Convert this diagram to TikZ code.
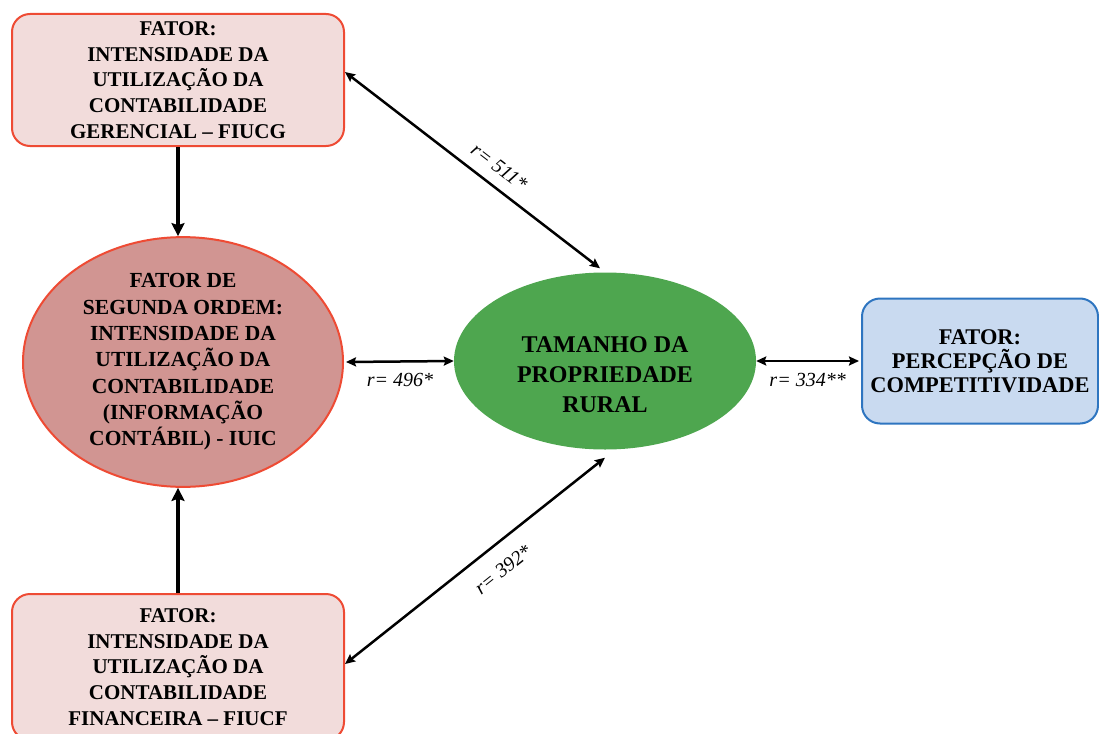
\documentclass[tikz,border=0pt]{standalone}
\usepackage{fontspec}
\setmainfont{Liberation Serif}
\usepackage{tikz}
\usetikzlibrary{arrows.meta,shapes.geometric}
\definecolor{vermelho}{HTML}{EE4B34}
\definecolor{rosa}{HTML}{F2DCDB}
\definecolor{rosaesc}{HTML}{D19592}
\definecolor{verde}{HTML}{4EA64F}
\definecolor{azulcl}{HTML}{C9DAF0}
\definecolor{azul}{HTML}{2E75C0}

\begin{document}
\begin{tikzpicture}[x=1pt, y=-1pt,
  caixa/.style={draw=vermelho, line width=2pt, fill=rosa, rounded corners=18pt,
    minimum width=332pt, minimum height=132pt, inner sep=0pt, align=center,
    font=\fontsize{21}{25.8}\selectfont\bfseries},
  elipse/.style={ellipse, inner sep=0pt, align=center},
  grossa/.style={-{Stealth[length=13pt,width=13pt,inset=2pt]}, line width=4pt},
  dupla/.style={{Stealth[length=10pt,width=9pt,inset=1.5pt]}-{Stealth[length=10pt,width=9pt,inset=1.5pt]}, line width=2.5pt},
  coef/.style={font=\fontsize{20}{24}\selectfont\itshape, inner sep=2pt}]

\useasboundingbox (0,0) rectangle (1099,733);
\clip (0,0) rectangle (1099,733);

% Fatores
\node[caixa] (fiucg) at (178,80) {FATOR:\\INTENSIDADE DA\\UTILIZAÇÃO DA\\CONTABILIDADE\\GERENCIAL – FIUCG};
\node[caixa, minimum height=146pt] (fiucf) at (178,667) {FATOR:\\INTENSIDADE DA\\UTILIZAÇÃO DA\\CONTABILIDADE\\FINANCEIRA – FIUCF};
\node[elipse, draw=vermelho, line width=2pt, fill=rosaesc, minimum width=320pt, minimum height=241pt,
  font=\fontsize{21.5}{26.3}\selectfont\bfseries] (iuic) at (183,362)
  {FATOR DE\\SEGUNDA ORDEM:\\INTENSIDADE DA\\UTILIZAÇÃO DA\\CONTABILIDADE\\(INFORMAÇÃO\\CONTÁBIL) - IUIC};
\node[elipse, fill=verde, minimum width=302pt, minimum height=177pt] (tam) at (605,361) {};
\node[align=center, font=\fontsize{24}{30}\selectfont\bfseries] (tamtxt) at (605,375)
  {TAMANHO DA\\PROPRIEDADE\\RURAL};
\node[caixa, draw=azul, fill=azulcl, minimum width=236pt, minimum height=125pt,
  font=\fontsize{22.4}{23.8}\selectfont\bfseries] (fpc) at (980,361)
  {FATOR:\\PERCEPÇÃO DE\\COMPETITIVIDADE};

% Setas
\draw[grossa] (fiucg.south) -- (fiucg.south |- iuic.north);
\draw[grossa] (fiucf.north) -- (fiucf.north |- iuic.south);
\draw[dupla] ([yshift=8pt]fiucg.east) -- ([shift={(-5pt,4pt)}]tam.north)
  node[coef, pos=0.56, sloped, above=9pt] {r= 511*};
\draw[dupla] ([yshift=3pt]fiucf.east) -- ([yshift=-8pt]tam.south)
  node[coef, pos=0.55, sloped, below=14pt] {r= 392*};
\draw[dupla] ([xshift=2pt]iuic.east) -- (tam.west)
  node[coef, midway, below=9pt] {r= 496*};
\draw[dupla] (tam.east) -- ([xshift=-2pt]fpc.west)
  node[coef, midway, below=9pt] {r= 334**};

\end{tikzpicture}
\end{document}
